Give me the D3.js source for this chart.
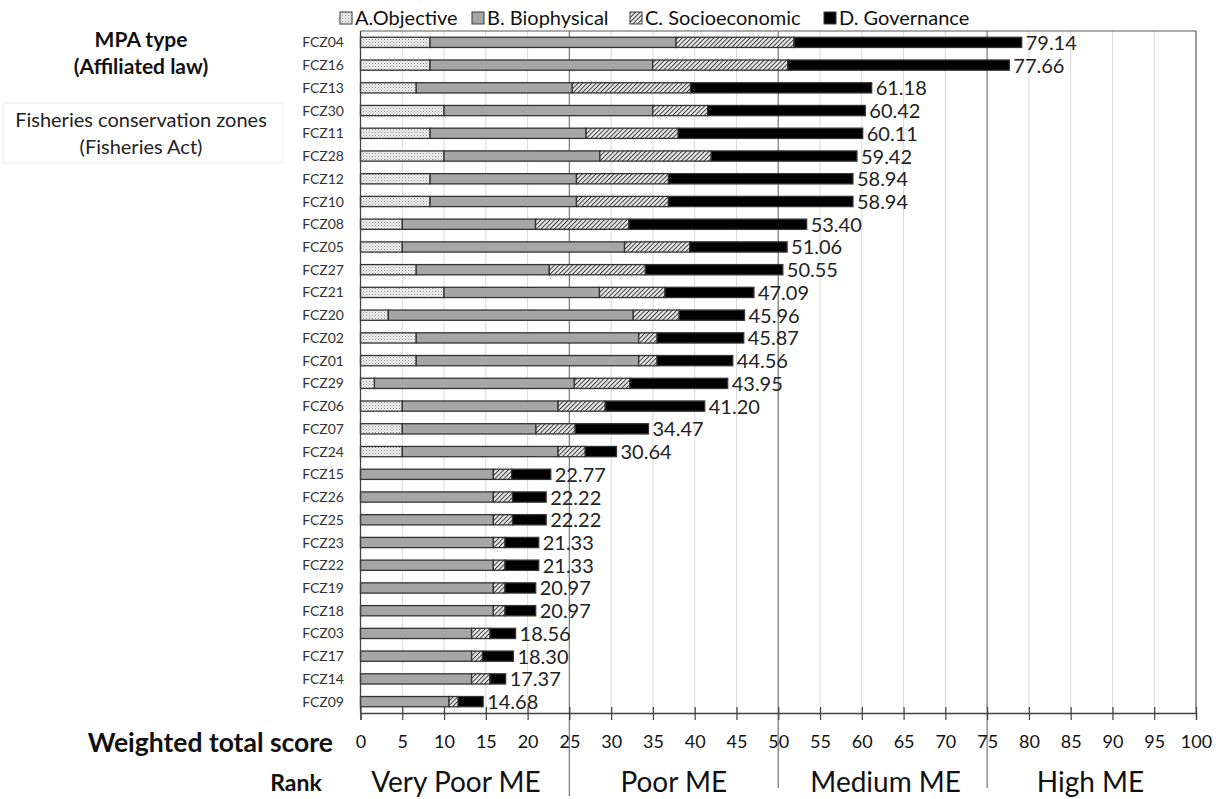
<!DOCTYPE html>
<html><head><meta charset="utf-8">
<script src="https://cdn.jsdelivr.net/npm/d3@7"></script>
<style>body{margin:0;background:#fff;} svg{display:block;font-family:Lato,"Open Sans",sans-serif;}</style>
</head><body>
<svg id="c" width="1220" height="799"></svg>
<script>
const categories = ["FCZ04","FCZ16","FCZ13","FCZ30","FCZ11","FCZ28","FCZ12","FCZ10","FCZ08","FCZ05","FCZ27","FCZ21","FCZ20","FCZ02","FCZ01","FCZ29","FCZ06","FCZ07","FCZ24","FCZ15","FCZ26","FCZ25","FCZ23","FCZ22","FCZ19","FCZ18","FCZ03","FCZ17","FCZ14","FCZ09"];
const objective = [8.33,8.33,6.67,10,8.33,10,8.33,8.33,5,5,6.67,10,3.33,6.67,6.67,1.67,5,5,5,0,0,0,0,0,0,0,0,0,0,0];
const biophysical = [29.44,26.65,18.68,24.98,18.67,18.65,17.52,17.52,15.95,26.6,15.93,18.6,29.32,26.63,26.63,23.93,18.65,16.0,18.65,15.9,15.9,15.9,15.9,15.9,15.9,15.9,13.3,13.3,13.3,10.6];
const socioeconomic = [14.13,16.17,14.15,6.58,11.03,13.33,11.01,11.01,11.18,7.8,11.5,7.85,5.5,2.2,2.2,6.65,5.65,4.7,3.25,2.2,2.3,2.3,1.4,1.4,1.4,1.4,2.2,1.3,2.2,1.1];
const governance = [27.24,26.51,21.68,18.86,22.08,17.44,22.08,22.08,21.27,11.66,16.45,10.64,7.81,10.37,9.06,11.70,11.90,8.77,3.74,4.67,4.02,4.02,4.03,4.03,3.67,3.67,3.06,3.70,1.87,2.98];
const totalLabels = ["79.14","77.66","61.18","60.42","60.11","59.42","58.94","58.94","53.40","51.06","50.55","47.09","45.96","45.87","44.56","43.95","41.20","34.47","30.64","22.77","22.22","22.22","21.33","21.33","20.97","20.97","18.56","18.30","17.37","14.68"];
const seriesKeys = ["A","B","C","D"];
const seriesNames = ["A.Objective","B. Biophysical","C. Socioeconomic","D. Governance"];
const xTicks = [0,5,10,15,20,25,30,35,40,45,50,55,60,65,70,75,80,85,90,95,100];
const rankBreaks = [25,50,75];
const rankLabels = ["Very Poor ME","Poor ME","Medium ME","High ME"];

const svg = d3.select("#c");
const defs = svg.append("defs");
// dotted pattern (A)
const pd = defs.append("pattern").attr("id","dots").attr("width",3).attr("height",3).attr("patternUnits","userSpaceOnUse");
pd.append("rect").attr("width",3).attr("height",3).attr("fill","#f2f2f2");
pd.append("rect").attr("x",0).attr("y",0).attr("width",1).attr("height",1).attr("fill","#8a8a8a");
pd.append("rect").attr("x",1.5).attr("y",1.5).attr("width",1).attr("height",1).attr("fill","#a8a8a8");
// hatch pattern (C)
const ph = defs.append("pattern").attr("id","hatch").attr("width",3.2).attr("height",3.2).attr("patternUnits","userSpaceOnUse").attr("patternTransform","rotate(45)");
ph.append("rect").attr("width",3.2).attr("height",3.2).attr("fill","#e4e4e4");
ph.append("line").attr("x1",0).attr("y1",0).attr("x2",0).attr("y2",3.2).attr("stroke","#2a2a2a").attr("stroke-width",1.7);
const fills = {A:"url(#dots)",B:"#a6a6a6",C:"url(#hatch)",D:"#000"};

const x = d3.scaleLinear().domain([0,100]).range([360.5,1196]);
const y = d3.scaleBand().domain(categories).range([31,713]).paddingInner(0.55).paddingOuter(0.275);

const rows = categories.map((c,i)=>({cat:c,A:objective[i],B:biophysical[i],C:socioeconomic[i],D:governance[i],label:totalLabels[i]}));
const stacked = d3.stack().keys(seriesKeys)(rows);

// gridlines
svg.append("g").selectAll("line").data(xTicks.filter(v=>v>0 && v<100 && !rankBreaks.includes(v))).join("line")
  .attr("x1",d=>x(d)).attr("x2",d=>x(d)).attr("y1",31).attr("y2",713)
  .attr("stroke","#d9d9d9").attr("stroke-width",1);
// plot frame top/right
svg.append("line").attr("x1",x(0)).attr("x2",x(100)).attr("y1",31).attr("y2",31).attr("stroke","#595959").attr("stroke-width",1.2);
svg.append("line").attr("x1",x(100)).attr("x2",x(100)).attr("y1",31).attr("y2",713).attr("stroke","#595959").attr("stroke-width",1.2);
// rank breaks
svg.append("g").selectAll("line").data(rankBreaks).join("line")
  .attr("x1",d=>x(d)).attr("x2",d=>x(d)).attr("y1",31).attr("y2",(d,i)=>i===0?796:788)
  .attr("stroke","#7f7f7f").attr("stroke-width",1.3);

// bars
const g = svg.append("g");
stacked.forEach(s=>{
  g.append("g").selectAll("rect").data(s.filter(d=>d[1]-d[0]>0)).join("rect")
    .attr("x",d=>x(d[0])).attr("width",d=>x(d[1])-x(d[0]))
    .attr("y",d=>y(d.data.cat)).attr("height",y.bandwidth())
    .attr("fill",fills[s.key]).attr("stroke","#333").attr("stroke-width",1.3);
});
// value labels
const last = stacked[stacked.length-1];
svg.append("g").selectAll("text").data(last).join("text")
  .attr("x",d=>x(d[1])+4).attr("y",d=>y(d.data.cat)+y.bandwidth()/2+7.5)
  .attr("font-size",20).attr("fill","#222").text(d=>d.data.label);

// category labels
svg.append("g").selectAll("text").data(categories).join("text")
  .attr("x",344).attr("y",d=>y(d)+y.bandwidth()/2+5)
  .attr("text-anchor","end").attr("font-size",14).attr("fill","#333").text(d=>d);

// left axis line
svg.append("line").attr("x1",x(0)).attr("x2",x(0)).attr("y1",31).attr("y2",713).attr("stroke","#404040").attr("stroke-width",1.3);

// bottom axis
const ax = svg.append("g").attr("transform","translate(0,713)")
  .call(d3.axisBottom(x).tickValues(xTicks).tickSize(7).tickPadding(15).tickFormat(d3.format("d")));
ax.select(".domain").attr("stroke","#404040").attr("stroke-width",1.3);
ax.selectAll(".tick line").attr("y1",-6).attr("y2",7).attr("stroke","#404040").attr("stroke-width",1.2);
ax.selectAll(".tick text").attr("font-size",18).attr("font-family","Lato,sans-serif").attr("fill","#111");

// axis captions
svg.append("text").attr("x",333).attr("y",752).attr("text-anchor","end").attr("font-size",26.5).attr("font-weight","bold").attr("fill","#111").text("Weighted total score");
svg.append("text").attr("x",296).attr("y",791).attr("text-anchor","middle").attr("font-size",23).attr("font-weight","bold").attr("fill","#111").text("Rank");
const rankCenters = [0,25,50,75].map(v=>(x(v)+x(v+25))/2);
const rankShift = [-9,0,3,-1];
svg.append("g").selectAll("text").data(rankLabels).join("text")
  .attr("x",(d,i)=>rankCenters[i]+rankShift[i]).attr("y",792).attr("text-anchor","middle")
  .attr("font-size",28).attr("fill","#111").text(d=>d);

// legend
const legX = [340,472,630,824];
const lg = svg.append("g");
seriesKeys.forEach((k,i)=>{
  lg.append("rect").attr("x",legX[i]).attr("y",12).attr("width",12).attr("height",12)
    .attr("fill",fills[k]).attr("stroke","#3a3a3a").attr("stroke-width",1);
  lg.append("text").attr("x",legX[i]+15).attr("y",25).attr("font-size",20).attr("fill","#111").text(seriesNames[i]);
});

// left header
svg.append("text").attr("x",141).attr("y",47).attr("text-anchor","middle").attr("font-size",21).attr("font-weight","bold").attr("fill","#111").text("MPA type");
svg.append("text").attr("x",141).attr("y",74).attr("text-anchor","middle").attr("font-size",21).attr("font-weight","bold").attr("fill","#111").text("(Affiliated law)");
svg.append("rect").attr("x",3).attr("y",103).attr("width",280).attr("height",60).attr("fill","none").attr("stroke","#ececec");
svg.append("text").attr("x",141).attr("y",127).attr("text-anchor","middle").attr("font-size",20).attr("fill","#222").text("Fisheries conservation zones");
svg.append("text").attr("x",141).attr("y",154).attr("text-anchor","middle").attr("font-size",20).attr("fill","#222").text("(Fisheries Act)");
</script>
</body></html>
